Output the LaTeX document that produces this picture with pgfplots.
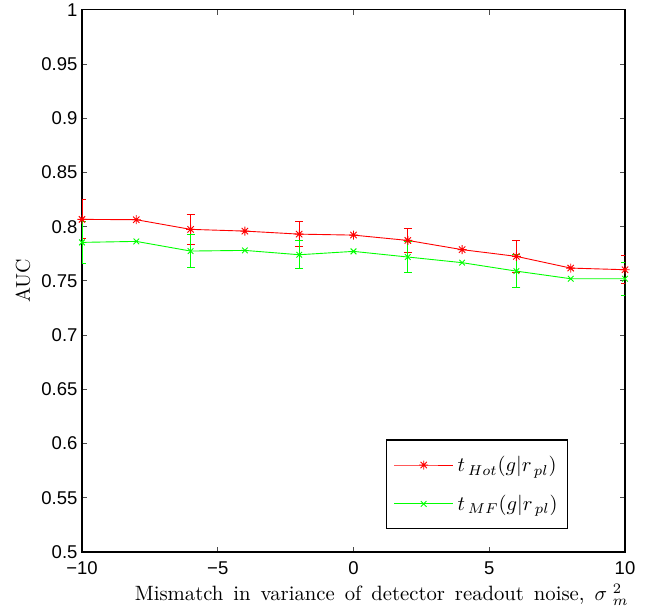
\documentclass[border=0pt]{standalone}
\usepackage{fontspec}
\usepackage{graphicx}
\usepackage{pgfplots}
\pgfplotsset{compat=1.18}
\newfontfamily\helv{Liberation Sans}

\pgfdeclareplotmark{mstar}{%
 \pgfpathmoveto{\pgfqpoint{-\pgfplotmarksize}{0pt}}\pgfpathlineto{\pgfqpoint{\pgfplotmarksize}{0pt}}%
 \pgfpathmoveto{\pgfqpoint{0pt}{-\pgfplotmarksize}}\pgfpathlineto{\pgfqpoint{0pt}{\pgfplotmarksize}}%
 \pgfpathmoveto{\pgfqpoint{-0.7071\pgfplotmarksize}{-0.7071\pgfplotmarksize}}\pgfpathlineto{\pgfqpoint{0.7071\pgfplotmarksize}{0.7071\pgfplotmarksize}}%
 \pgfpathmoveto{\pgfqpoint{-0.7071\pgfplotmarksize}{0.7071\pgfplotmarksize}}\pgfpathlineto{\pgfqpoint{0.7071\pgfplotmarksize}{-0.7071\pgfplotmarksize}}%
 \pgfusepathqstroke}

\pgfplotstableread{
x y
-10 0.8067
-8 0.8064
-6 0.7975
-4 0.7959
-2 0.7931
0 0.7922
2 0.7873
4 0.7788
6 0.7726
8 0.7618
10 0.7603
}\hot
\pgfplotstableread{
x y e
-10 0.8067 0.018
-6 0.7975 0.0135
-2 0.7931 0.0117
2 0.7873 0.0114
6 0.7726 0.0147
10 0.7603 0.013
}\hoterr
\pgfplotstableread{
x y
-10 0.7855
-8 0.7864
-6 0.7775
-4 0.7781
-2 0.7741
0 0.7772
2 0.7720
4 0.7668
6 0.7590
8 0.7520
10 0.7520
}\mf
\pgfplotstableread{
x y e
-10 0.7855 0.019
-6 0.7775 0.015
-2 0.7741 0.0128
2 0.7720 0.014
6 0.7590 0.015
10 0.7520 0.015
}\mferr

\begin{document}
\begin{tikzpicture}
\begin{axis}[
  scale only axis,
  width=543pt, height=542.4pt,
  xmin=-10, xmax=10, ymin=0.5, ymax=1,
  xtick={-10,-5,0,5,10},
  xticklabels={−10,−5,0,5,10},
  ytick={0.5,0.55,0.6,0.65,0.7,0.75,0.8,0.85,0.9,0.95,1},
  yticklabels={0.5,0.55,0.6,0.65,0.7,0.75,0.8,0.85,0.9,0.95,1},
  tick label style={font=\helv\fontsize{18.5}{20}\selectfont},
  yticklabel style={xshift=-1pt},
  xticklabel style={yshift=-6pt},
  major tick length=5pt,
  tick style={black!70, line width=0.8pt},
  axis line style={line width=1.3pt},
  tick align=inside,
  xlabel={\scalebox{2.07}{\spaceskip=4.8pt plus 1pt minus 1pt Mismatch in variance of detector readout noise, $\sigma\;{}^{2}_{m}$}},
  xlabel style={at={(rel axis cs:0.552,0)}, anchor=base, yshift=-48.5pt},
  ylabel={\scalebox{2.0}{AUC}},
  ylabel style={at={(rel axis cs:0,0.5)}, anchor=center, yshift=59pt},
  legend style={at={(rel axis cs:0.8945,0.0418)}, anchor=south east, draw=black, line width=1.2pt,
    inner xsep=7.5pt, inner ysep=14.5pt, row sep=18pt, column sep=2pt,
    nodes={inner sep=2pt}},
  legend cell align=left,
  legend image code/.code={\draw[mark repeat=2,mark phase=2] plot coordinates {(0pt,0pt)(29.5pt,0pt)(59pt,0pt)};},
]
\addplot[red, line width=0.9pt, mark=mstar, mark size=4.5pt, mark options={line width=0.9pt}] table[x=x,y=y] {\hot};
\addlegendentry{\scalebox{2.05}{$t_{\,Hot}(g|r_{\,pl})$}}
\addplot[green, line width=0.9pt, mark=x, mark size=4pt, mark options={line width=0.9pt}] table[x=x,y=y] {\mf};
\addlegendentry{\scalebox{2.05}{$t_{\,MF}(g|r_{\,pl})$}}
\addplot[forget plot, draw=none, mark=none, error bars/.cd, y dir=both, y explicit,
  error bar style={draw=red, line width=0.9pt}, error mark options={rotate=90, mark size=4pt, draw=red, line width=0.9pt}]
  table[x=x,y=y,y error=e] {\hoterr};
\addplot[forget plot, draw=none, mark=none, error bars/.cd, y dir=both, y explicit,
  error bar style={draw=green, line width=0.9pt}, error mark options={rotate=90, mark size=4pt, draw=green, line width=0.9pt}]
  table[x=x,y=y,y error=e] {\mferr};
\end{axis}
\useasboundingbox (current axis.south west) ++(-82pt,-58.3pt) rectangle ([xshift=31pt,yshift=9.3pt]current axis.north east);
\end{tikzpicture}
\end{document}
